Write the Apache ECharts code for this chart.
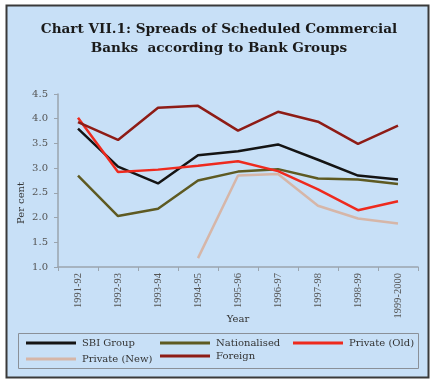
<!DOCTYPE html>
<html><head><meta charset="utf-8">
<script src="https://cdn.jsdelivr.net/npm/echarts@6/dist/echarts.min.js"></script>
<style>html,body{margin:0;padding:0;background:#fff;}#c{width:438px;height:386px;}</style>
</head><body><div id="c"></div>
<script>
const categories = ['1991-92','1992-93','1993-94','1994-95','1995-96','1996-97','1997-98','1998-99','1999-2000'];
const sbiGroup     = [3.80, 3.03, 2.69, 3.26, 3.34, 3.48, 3.17, 2.85, 2.77];
const nationalised = [2.85, 2.03, 2.18, 2.75, 2.93, 2.98, 2.79, 2.77, 2.68];
const privateOld   = [4.02, 2.92, 2.97, 3.05, 3.14, 2.94, 2.57, 2.15, 2.33];
const privateNew   = [null, null, null, 1.18, 2.85, 2.88, 2.24, 1.98, 1.88];
const foreign      = [3.93, 3.57, 4.22, 4.26, 3.76, 4.14, 3.94, 3.49, 3.86];
const yTicks = { min: 1.0, max: 4.5, step: 0.5 };

const serif = '"DejaVu Serif", "Liberation Serif", serif';
const tserif = '"Liberation Serif", serif';
const chart = echarts.init(document.getElementById('c'));
const mk = (name, data, color, w) => ({
  name, type: 'line', data, symbol: 'none', connectNulls: false,
  lineStyle: { color, width: w }, itemStyle: { color }
});
const legendItem = (name, left, top) => ({
  data: [name], left, top, orient: 'horizontal', icon: 'rect',
  itemWidth: 50, itemHeight: 3, itemGap: 0, padding: 0,
  textStyle: { fontFamily: serif, fontSize: 10, color: '#333', padding: [0,0,0,1] },
  selectedMode: false
});
chart.setOption({
  backgroundColor: '#ffffff',
  animation: false,
  graphic: [
    { type: 'rect', shape: { x: 6.5, y: 5.5, width: 422, height: 372 },
      style: { fill: '#c8e0f7', stroke: '#3a3a3a', lineWidth: 2 }, z: -10 },
    { type: 'rect', shape: { x: 18.5, y: 333.5, width: 400, height: 35 },
      style: { fill: 'none', stroke: '#8a9098', lineWidth: 1 }, z: -5 },
    { type: 'text', left: 'center', top: 20,
      style: { text: 'Chart VII.1: Spreads of Scheduled Commercial\nBanks  according to Bank Groups',
        font: 'bold 13.6px ' + serif, fill: '#1a1a1a', textAlign: 'center', lineHeight: 19 } },
    { type: 'text', x: 21, y: 203, rotation: Math.PI / 2,
      style: { text: 'Per cent', font: '10px ' + serif, fill: '#333',
        textAlign: 'center', textVerticalAlign: 'middle' } }
  ],
  grid: { left: 58, right: 20, top: 94, bottom: 119 },
  legend: [
    legendItem('SBI Group', 26, 338),
    legendItem('Nationalised', 160, 338),
    legendItem('Private (Old)', 293, 338),
    legendItem('Private (New)', 26, 354),
    legendItem('Foreign', 160, 351)
  ],
  xAxis: {
    type: 'category', data: categories, boundaryGap: true,
    name: 'Year', nameLocation: 'middle', nameGap: 47, nameMoveOverlap: false,
    nameTextStyle: { fontFamily: serif, fontSize: 10, color: '#333' },
    axisLine: { lineStyle: { color: '#9aa4ae', width: 1.5 } },
    axisTick: { show: true, length: 4, lineStyle: { color: '#9aa4ae' } },
    axisLabel: { rotate: 90, fontFamily: tserif, fontSize: 10.5, color: '#555', margin: 6 }
  },
  yAxis: {
    type: 'value', min: yTicks.min, max: yTicks.max, interval: yTicks.step,
    axisLine: { show: true, lineStyle: { color: '#9aa4ae', width: 1.5 } },
    axisTick: { show: true, length: 4, lineStyle: { color: '#9aa4ae' } },
    splitLine: { show: false },
    axisLabel: { fontFamily: serif, fontSize: 10, color: '#555', margin: 10,
      formatter: v => v.toFixed(1) }
  },
  series: [
    mk('SBI Group', sbiGroup, '#141414', 2.5),
    mk('Nationalised', nationalised, '#5e5a22', 2.5),
    mk('Private (Old)', privateOld, '#ee2a1e', 2.5),
    mk('Private (New)', privateNew, '#d6b6a8', 2.5),
    mk('Foreign', foreign, '#8e1c16', 2.5)
  ]
});
</script></body></html>
